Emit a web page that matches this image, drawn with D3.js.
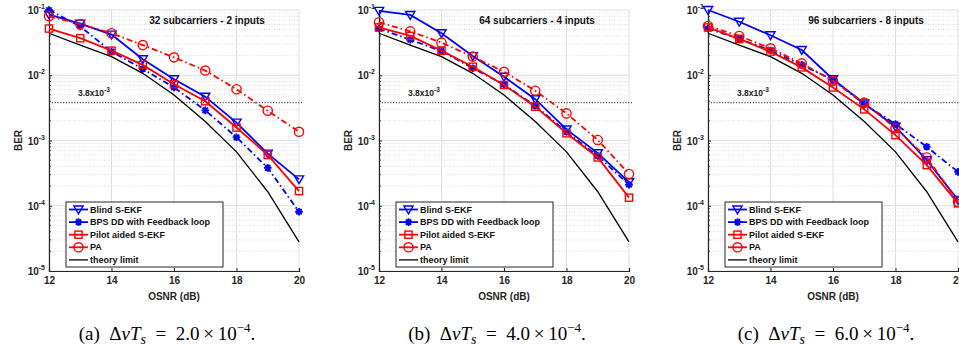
<!DOCTYPE html>
<html>
<head>
<meta charset="utf-8">
<script src="https://cdn.jsdelivr.net/npm/d3@7"></script>
<style>
  body { margin: 0; background: #fff; }
  svg { display: block; font-family: "Liberation Sans", Arial, sans-serif; }
</style>
</head>
<body>
<div id="chart"></div>
<script>
// OSNR points shared by all three panels
var osnr = [12, 13, 14, 15, 16, 17, 18, 19, 20];
var theory = [0.044, 0.029, 0.0193, 0.0107, 0.005, 0.00195, 0.00067, 0.000164, 0.000028];

// (a) 32 subcarriers - 2 inputs
var blindA = [0.085, 0.062, 0.042, 0.0176, 0.0087, 0.0047, 0.00188, 0.00063, 0.000254];
var bpsA   = [0.1, 0.056, 0.023, 0.0125, 0.0065, 0.0029, 0.00112, 0.00038, 0.000081];
var pilotA = [0.052, 0.037, 0.0238, 0.0144, 0.0073, 0.004, 0.00158, 0.0006, 0.000168];
var paA    = [0.08, 0.061, 0.044, 0.029, 0.0188, 0.0118, 0.0061, 0.00286, 0.00136];

// (b) 64 subcarriers - 4 inputs
var blindB = [0.097, 0.084, 0.044, 0.0197, 0.0095, 0.0043, 0.00148, 0.00064, 0.00023];
var bpsB   = [0.052, 0.035, 0.0235, 0.0128, 0.0072, 0.0034, 0.00136, 0.00058, 0.00021];
var pilotB = [0.054, 0.04, 0.0238, 0.0135, 0.0071, 0.0033, 0.00129, 0.00055, 0.000133];
var paB    = [0.065, 0.047, 0.0316, 0.0193, 0.0113, 0.0058, 0.0026, 0.00102, 0.000307];

// (c) 96 subcarriers - 8 inputs
var blindC = [0.1, 0.066, 0.041, 0.0244, 0.0087, 0.0037, 0.00163, 0.0005, 0.000123];
var bpsC   = [0.052, 0.036, 0.024, 0.0144, 0.0085, 0.0036, 0.00179, 0.0008, 0.00033];
var pilotC = [0.054, 0.036, 0.023, 0.0132, 0.0065, 0.003, 0.00121, 0.00042, 0.000109];
var paC    = [0.057, 0.04, 0.0259, 0.0152, 0.0082, 0.0038, 0.00154, 0.00055, 0.000115];

var titles = ["32 subcarriers - 2 inputs", "64 subcarriers - 4 inputs", "96 subcarriers - 8 inputs"];
var captionLetters = ["(a)", "(b)", "(c)"];
var captionValues = ["2.0", "4.0", "6.0"];
var seriesNames = ["Blind S-EKF", "BPS DD with Feedback loop", "Pilot aided S-EKF", "PA", "theory limit"];
var yTicks = [1e-1, 1e-2, 1e-3, 1e-4, 1e-5];
var xTicks = [12, 14, 16, 18, 20];
var threshold = 3.8e-3;

var W = 959, H = 346;
var svg = d3.select("#chart").append("svg")
    .attr("width", W)
    .attr("height", H);

var panelLeft = [49, 379, 708];
var plotW = 250, plotTop = 10, plotBottom = 271;

var panels = [
  [blindA, bpsA, pilotA, paA],
  [blindB, bpsB, pilotB, paB],
  [blindC, bpsC, pilotC, paC]
];

var styles = [
  {color: "#0000ff", dash: null, marker: "tri"},
  {color: "#0000ff", dash: "6,3,1.5,3", marker: "star"},
  {color: "#ff0000", dash: null, marker: "square"},
  {color: "#ff0000", dash: "6,3,1.5,3", marker: "circle"}
];

function drawMarker(g, type, color, x, y) {
  if (type == "tri") {
    var s = 4.6;
    g.append("path")
      .attr("d", "M" + (x - s) + "," + (y - s * 0.75) + "L" + (x + s) + "," + (y - s * 0.75) + "L" + x + "," + (y + s * 0.95) + "Z")
      .attr("fill", "none").attr("stroke", color).attr("stroke-width", 1.4);
  } else if (type == "square") {
    g.append("rect")
      .attr("x", x - 3.6).attr("y", y - 3.6).attr("width", 7.2).attr("height", 7.2)
      .attr("fill", "none").attr("stroke", color).attr("stroke-width", 1.4);
  } else if (type == "circle") {
    g.append("circle")
      .attr("cx", x).attr("cy", y).attr("r", 4.6)
      .attr("fill", "none").attr("stroke", color).attr("stroke-width", 1.4);
  } else if (type == "star") {
    var r = 3.8, d = "";
    [0, 45, 90, 135].forEach(function(a) {
      var rad = a * Math.PI / 180;
      d += "M" + (x - r * Math.cos(rad)) + "," + (y - r * Math.sin(rad)) +
           "L" + (x + r * Math.cos(rad)) + "," + (y + r * Math.sin(rad));
    });
    g.append("path").attr("d", d).attr("stroke", color).attr("stroke-width", 1.9);
  }
}

panels.forEach(function(series, p) {
  var left = panelLeft[p];
  var g = svg.append("g");

  var x = d3.scaleLinear().domain([12, 20]).range([left, left + plotW]);
  var y = d3.scaleLog().domain([1e-5, 1e-1]).range([plotBottom, plotTop]);

  // minor grid (dotted)
  var minors = [];
  for (var e = -5; e < -1; e++) {
    for (var m = 2; m <= 9; m++) minors.push(m * Math.pow(10, e));
  }
  g.selectAll(".minor").data(minors).enter().append("line")
    .attr("x1", left).attr("x2", left + plotW)
    .attr("y1", function(d) { return y(d); }).attr("y2", function(d) { return y(d); })
    .attr("stroke", "#d4d4d4").attr("stroke-width", 0.8).attr("stroke-dasharray", "1,1.5");

  // major grid
  g.selectAll(".hgrid").data(yTicks).enter().append("line")
    .attr("x1", left).attr("x2", left + plotW)
    .attr("y1", function(d) { return y(d); }).attr("y2", function(d) { return y(d); })
    .attr("stroke", "#dedede").attr("stroke-width", 1);
  g.selectAll(".vgrid").data(xTicks).enter().append("line")
    .attr("x1", function(d) { return x(d); }).attr("x2", function(d) { return x(d); })
    .attr("y1", plotTop).attr("y2", plotBottom)
    .attr("stroke", "#dedede").attr("stroke-width", 1);

  // threshold line + label
  g.append("line")
    .attr("x1", left).attr("x2", left + plotW + 3)
    .attr("y1", y(threshold)).attr("y2", y(threshold))
    .attr("stroke", "#555").attr("stroke-width", 1.1).attr("stroke-dasharray", "1.2,1.6");
  g.append("rect")
    .attr("x", left + 23).attr("y", y(threshold) - 19).attr("width", 52).attr("height", 15)
    .attr("fill", "#fff");
  var lab = g.append("text")
    .attr("x", left + 29).attr("y", y(threshold) - 7)
    .attr("font-size", 8.5).attr("font-weight", "bold").attr("fill", "#222");
  lab.append("tspan").text("3.8x10");
  lab.append("tspan").attr("font-size", 6.5).attr("dy", -4).text("-3");

  // axes
  var xAxis = g.append("g")
    .attr("transform", "translate(0," + plotBottom + ")")
    .call(d3.axisBottom(x).tickValues(xTicks).tickSize(-3).tickPadding(6).tickFormat(d3.format("d")));
  xAxis.select(".domain").attr("stroke", "#262626").attr("stroke-width", 1.2);
  xAxis.selectAll(".tick line").attr("stroke", "#262626");
  xAxis.selectAll("text").attr("font-size", 10).attr("font-weight", "bold").attr("fill", "#262626")
    .style("font-family", "'Liberation Sans', Arial, sans-serif");

  var yAxis = g.append("g")
    .attr("transform", "translate(" + left + ",0)")
    .call(d3.axisLeft(y).tickValues(yTicks).tickSize(-3).tickPadding(4).tickFormat(""));
  yAxis.select(".domain").attr("stroke", "#262626").attr("stroke-width", 1.2);
  yAxis.selectAll(".tick line").attr("stroke", "#262626");
  yAxis.selectAll(".tick").each(function(d) {
    var t = d3.select(this).append("text")
      .attr("x", -4).attr("dy", "0.35em").attr("text-anchor", "end")
      .attr("font-size", 10).attr("font-weight", "bold").attr("fill", "#262626")
      .style("font-family", "'Liberation Sans', Arial, sans-serif");
    t.append("tspan").text("10");
    t.append("tspan").attr("font-size", 7).attr("dy", -5).text(String(Math.round(Math.log10(d))));
  });
  g.selectAll(".ytickminor").data(minors).enter().append("line")
    .attr("x1", left).attr("x2", left + 2)
    .attr("y1", function(d) { return y(d); }).attr("y2", function(d) { return y(d); })
    .attr("stroke", "#262626").attr("stroke-width", 0.8);

  // axis labels
  g.append("text")
    .attr("x", left + plotW / 2).attr("y", 300)
    .attr("text-anchor", "middle").attr("font-size", 10).attr("font-weight", "bold").attr("fill", "#262626")
    .text("OSNR (dB)");
  g.append("text")
    .attr("transform", "translate(" + (left - 27) + "," + ((plotTop + plotBottom) / 2) + ") rotate(-90)")
    .attr("text-anchor", "middle").attr("font-size", 10).attr("font-weight", "bold").attr("fill", "#262626")
    .text("BER");

  // title inside plot
  g.append("text")
    .attr("x", left + 158).attr("y", 24)
    .attr("text-anchor", "middle").attr("font-size", 10).attr("font-weight", "bold").attr("fill", "#111")
    .text(titles[p]);

  // theory limit
  var line = d3.line()
    .x(function(d, i) { return x(osnr[i]); })
    .y(function(d) { return y(d); });
  g.append("path").datum(theory)
    .attr("d", line).attr("fill", "none").attr("stroke", "#000").attr("stroke-width", 1.3);

  // series
  series.forEach(function(vals, s) {
    var st = styles[s];
    g.append("path").datum(vals)
      .attr("d", line).attr("fill", "none")
      .attr("stroke", st.color).attr("stroke-width", 1.8)
      .attr("stroke-dasharray", st.dash);
    vals.forEach(function(v, i) {
      drawMarker(g, st.marker, st.color, x(osnr[i]), y(v));
    });
  });

  // legend
  var lx = left + 17, ly = 202;
  var lg = g.append("g");
  lg.append("rect")
    .attr("x", lx).attr("y", ly).attr("width", 157).attr("height", 65)
    .attr("fill", "#fff").attr("stroke", "#262626").attr("stroke-width", 1);
  seriesNames.forEach(function(name, i) {
    var yy = ly + 7.5 + i * 12.6;
    var color = i < 4 ? styles[i].color : "#000";
    var sw = i < 4 ? 1.8 : 1.3;
    lg.append("line")
      .attr("x1", lx + 3).attr("x2", lx + 22).attr("y1", yy).attr("y2", yy)
      .attr("stroke", color).attr("stroke-width", sw);
    if (i < 4) drawMarker(lg, styles[i].marker, color, lx + 12.5, yy);
    lg.append("text")
      .attr("x", lx + 24).attr("y", yy).attr("dy", "0.35em")
      .attr("font-size", 9).attr("font-weight", "bold").attr("fill", "#111")
      .text(name);
  });

  // caption
  var cap = g.append("text")
    .attr("x", left + 118).attr("y", 340)
    .attr("text-anchor", "middle")
    .style("font-family", "'Liberation Serif', 'Times New Roman', serif")
    .attr("font-size", 19).attr("fill", "#000");
  cap.append("tspan").text(captionLetters[p] + "\u00a0\u00a0\u0394");
  cap.append("tspan").attr("font-style", "italic").text("\u03bdT");
  cap.append("tspan").attr("font-style", "italic").attr("font-size", 14).attr("dy", 4).text("s");
  cap.append("tspan").attr("dy", -4).text("\u2002=\u2002" + captionValues[p] + "\u2009\u00d7\u200910");
  cap.append("tspan").attr("font-size", 13).attr("dy", -8).text("\u22124");
  cap.append("tspan").attr("dy", 8).text(".");
});
</script>
</body>
</html>
